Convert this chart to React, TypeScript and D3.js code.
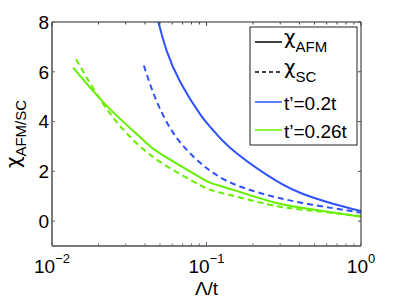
import React from "react";
import * as d3 from "d3";

const blueSolidX = [0.0488, 0.0552, 0.0675, 0.0908, 0.1087, 0.142, 0.247, 0.403, 0.659, 1.0];
const blueSolidY = [8.0, 6.85, 5.6, 4.3, 3.7, 2.95, 1.85, 1.14, 0.7, 0.4];
const blueDashX = [0.0393, 0.0477, 0.0641, 0.0908, 0.11, 0.1486, 0.247, 0.403, 0.659, 1.0];
const blueDashY = [6.25, 4.8, 3.35, 2.35, 1.95, 1.5, 1.05, 0.75, 0.52, 0.34];
const greenSolidX = [0.0137, 0.0233, 0.0383, 0.05, 0.0908, 0.122, 0.247, 0.403, 1.0];
const greenSolidY = [6.17, 4.55, 3.3, 2.72, 1.76, 1.42, 0.83, 0.55, 0.17];
const greenDashX = [0.0143, 0.0215, 0.0313, 0.05, 0.0908, 0.122, 0.247, 0.403, 1.0];
const greenDashY = [6.5, 4.7, 3.45, 2.38, 1.45, 1.15, 0.68, 0.47, 0.2];

const yTicks = [0, 2, 4, 6, 8];
const xMajorTicks = [0.01, 0.1, 1];
const xTickExponents = ["\u22122", "\u22121", "0"];
const legendLabels = ["t\u2019=0.2t", "t\u2019=0.26t"];

const BLUE = "#2f52ff";
const GREEN = "#66f000";
const FONT = "'Liberation Sans', Arial, Helvetica, sans-serif";
const CHI_FONT = "'DejaVu Sans', 'Noto Sans', sans-serif";

export default function App() {
  const W = 399, H = 298;
  const m = { left: 52, right: 361, top: 22, bottom: 246 };
  const x = d3.scaleLog().domain([0.01, 1]).range([m.left, m.right]);
  const y = d3.scaleLinear().domain([-1, 8]).range([m.bottom, m.top]);

  const line = d3
    .line<[number, number]>()
    .x((d) => x(d[0]))
    .y((d) => y(d[1]))
    .curve(d3.curveNatural);

  const zip = (a: number[], b: number[]) => a.map((v, i) => [v, b[i]] as [number, number]);

  const minor: number[] = [];
  [0.01, 0.1].forEach((dec) => {
    for (let k = 2; k <= 9; k++) minor.push(dec * k);
  });

  const series = [
    { d: zip(blueSolidX, blueSolidY), c: BLUE, dash: undefined },
    { d: zip(blueDashX, blueDashY), c: BLUE, dash: "6,4" },
    { d: zip(greenSolidX, greenSolidY), c: GREEN, dash: undefined },
    { d: zip(greenDashX, greenDashY), c: GREEN, dash: "6,4" },
  ];

  const lg = { x0: 250, x1: 357, y0: 27, y1: 145, lx0: 255, lx1: 282, tx: 284 };

  return (
    <svg
      width={W}
      height={H}
      style={{ position: "absolute", left: 0, top: 0, background: "#fff" }}
      fontFamily={FONT}
    >
      <defs>
        <clipPath id="plotclip">
          <rect x={m.left} y={m.top} width={m.right - m.left} height={m.bottom - m.top} />
        </clipPath>
      </defs>
      <rect x={0} y={0} width={W} height={H} fill="#fff" />

      <g clipPath="url(#plotclip)">
        {series.map((s, i) => (
          <path
            key={i}
            d={line(s.d) || ""}
            fill="none"
            stroke={s.c}
            strokeWidth={2}
            strokeDasharray={s.dash}
          />
        ))}
      </g>

      <line x1={m.left} x2={m.right} y1={m.top} y2={m.top} stroke="#222" strokeWidth={1} />
      <line x1={m.right} x2={m.right} y1={m.top} y2={m.bottom} stroke="#222" strokeWidth={1} />
      <line x1={m.left} x2={m.left} y1={m.top} y2={m.bottom} stroke="#7a7a7a" strokeWidth={2} />
      <line x1={m.left} x2={m.right} y1={m.bottom} y2={m.bottom} stroke="#7a7a7a" strokeWidth={2} />

      {yTicks.map((t) => (
        <g key={"y" + t}>
          <line x1={m.left} x2={m.left + 3} y1={y(t)} y2={y(t)} stroke="#666" />
          <line x1={m.right} x2={m.right - 3} y1={y(t)} y2={y(t)} stroke="#444" />
          <text x={49} y={y(t)} dy="0.36em" textAnchor="end" fontSize={19} fill="#000">
            {t}
          </text>
        </g>
      ))}

      {xMajorTicks.map((t, i) => (
        <g key={"x" + t}>
          <line x1={x(t)} x2={x(t)} y1={m.bottom} y2={m.bottom - 4} stroke="#666" />
          <line x1={x(t)} x2={x(t)} y1={m.top} y2={m.top + 4} stroke="#444" />
          <text x={x(t)} y={273} textAnchor="middle" fontSize={19} fill="#000">
            10
            <tspan dy={-10} fontSize={13}>
              {xTickExponents[i]}
            </tspan>
          </text>
        </g>
      ))}
      {minor.map((t) => (
        <g key={"mx" + t}>
          <line x1={x(t)} x2={x(t)} y1={m.bottom} y2={m.bottom - 2.5} stroke="#666" />
          <line x1={x(t)} x2={x(t)} y1={m.top} y2={m.top + 2.5} stroke="#444" />
        </g>
      ))}

      <text x={(m.left + m.right) / 2} y={295} textAnchor="middle" fontSize={19} fill="#000">
        {"\u039B/t"}
      </text>
      <text
        transform={`translate(20,${(m.top + m.bottom) / 2}) rotate(-90)`}
        textAnchor="middle"
        fontSize={20}
        fill="#000"
      >
        <tspan fontFamily={CHI_FONT}>{"\u03C7"}</tspan>
        <tspan dy={6} fontSize={15}>
          AFM/SC
        </tspan>
      </text>

      <rect
        x={lg.x0}
        y={lg.y0}
        width={lg.x1 - lg.x0}
        height={lg.y1 - lg.y0}
        fill="#fff"
        stroke="#222"
        strokeWidth={1}
      />
      <line x1={lg.lx0} x2={lg.lx1} y1={42} y2={42} stroke="#000" strokeWidth={1.5} />
      <text x={lg.tx} y={44} fontSize={20} fill="#000">
        <tspan fontFamily={CHI_FONT}>{"\u03C7"}</tspan>
        <tspan dy={8} fontSize={15}>
          AFM
        </tspan>
      </text>
      <line x1={lg.lx0} x2={lg.lx1} y1={72} y2={72} stroke="#000" strokeWidth={1.5} strokeDasharray="4,3" />
      <text x={lg.tx} y={74} fontSize={20} fill="#000">
        <tspan fontFamily={CHI_FONT}>{"\u03C7"}</tspan>
        <tspan dy={8} fontSize={15}>
          SC
        </tspan>
      </text>
      <line x1={lg.lx0} x2={lg.lx1} y1={102} y2={102} stroke={BLUE} strokeWidth={1.5} />
      <text x={lg.tx} y={110} fontSize={19} fill="#000">
        {legendLabels[0]}
      </text>
      <line x1={lg.lx0} x2={lg.lx1} y1={130} y2={130} stroke={GREEN} strokeWidth={1.5} />
      <text x={lg.tx} y={138} fontSize={19} fill="#000">
        {legendLabels[1]}
      </text>
    </svg>
  );
}
